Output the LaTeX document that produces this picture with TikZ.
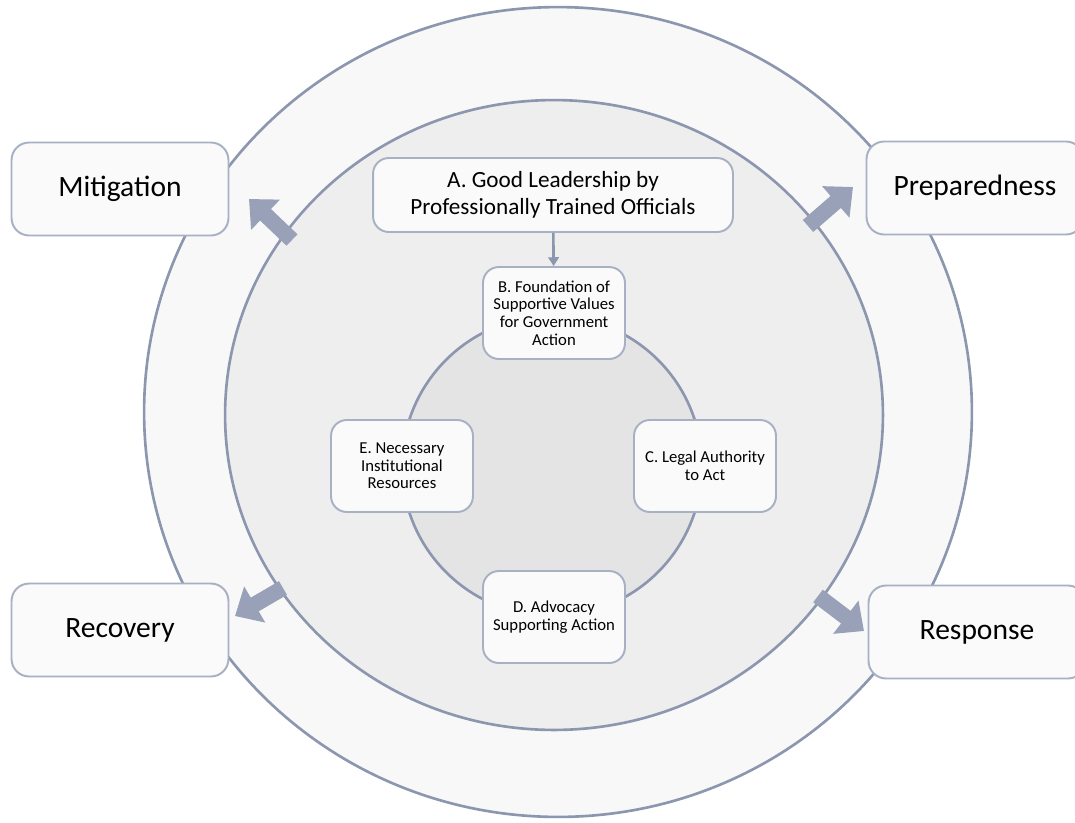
\documentclass[tikz,border=0pt]{standalone}
\usepackage{fontspec}
\setmainfont{Carlito}
\usetikzlibrary{arrows.meta}

\definecolor{ringline}{RGB}{140,150,175}
\definecolor{boxline}{RGB}{168,176,196}
\definecolor{arrowfill}{RGB}{152,161,184}
\definecolor{outerfill}{RGB}{248,248,248}
\definecolor{midfill}{RGB}{238,238,238}
\definecolor{innerfill}{RGB}{228,228,228}
\definecolor{boxfill}{RGB}{250,250,250}

\tikzset{
	ring/.style={draw=ringline, line width=1.5pt},
	leader/.style={draw=boxline, line width=1.1pt, fill=boxfill, rounded corners=9pt,
		minimum width=7.2cm, minimum height=1.48cm, align=center,
		font=\fontsize{13.2}{15.5}\selectfont},
	pillar/.style={draw=boxline, line width=1.1pt, fill=boxfill, rounded corners=9pt,
		minimum width=2.84cm, minimum height=1.84cm, align=center, inner sep=2pt,
		font=\fontsize{9.5}{10}\selectfont},
	phase/.style={draw=boxline, line width=1.1pt, fill=boxfill, rounded corners=10pt,
		minimum width=4.34cm, minimum height=1.86cm,
		font=\fontsize{16.8}{20}\selectfont},
	bigarrow/.style={draw=arrowfill, line width=9pt, -{Triangle[width=23pt,length=13pt]}},
	link/.style={draw=ringline, line width=1.5pt, -{Triangle[width=6pt,length=5pt]}}
}

\begin{document}
\begin{tikzpicture}[x=0.02cm,y=-0.02cm]
	\useasboundingbox (0,0) rectangle (1075,822);

	% les anneaux
	\draw[ring, fill=outerfill] (558,412) ellipse [x radius=8.28cm, y radius=8.1cm];
	\draw[ring, fill=midfill] (554,415) ellipse [x radius=6.58cm, y radius=6.3cm];
	\draw[ring, fill=innerfill] (552,466) circle (3cm);

	% grosses fleches vers les phases
	\coordinate (mitigTail) at (292,240);
	\coordinate (mitigTip) at (249,199);
	\coordinate (prepTail) at (808,226);
	\coordinate (prepTip) at (853,187);
	\coordinate (recovTail) at (283,588);
	\coordinate (recovTip) at (235,616);
	\coordinate (respTail) at (818,596);
	\coordinate (respTip) at (864,631);
	\draw[bigarrow] (mitigTail) -- (mitigTip);
	\draw[bigarrow] (prepTail) -- (prepTip);
	\draw[bigarrow] (recovTail) -- (recovTip);
	\draw[bigarrow] (respTail) -- (respTip);

	% les phases
	\node[phase] (mitig) at (120,189) {Mitigation};
	\node[phase] (prep) at (975,188) {Preparedness};
	\node[phase] (recov) at (120,630) {Recovery};
	\node[phase] (resp) at (977,632) {Response};

	% leadership
	\node[leader] (lead) at (553,195) {A. Good Leadership by\\Professionally Trained Officials};

	% autour du cercle interieur
	\node[pillar] (values) at (554,313) {B. Foundation of\\Supportive Values\\for Government\\Action};
	\node[pillar] (legal) at (705,466) {C. Legal Authority\\to Act};
	\node[pillar] (advocacy) at (554,617) {D. Advocacy\\Supporting Action};
	\node[pillar] (resources) at (402,466) {E. Necessary\\Institutional\\Resources};

	\draw[link] (lead) -- (values);
\end{tikzpicture}
\end{document}
